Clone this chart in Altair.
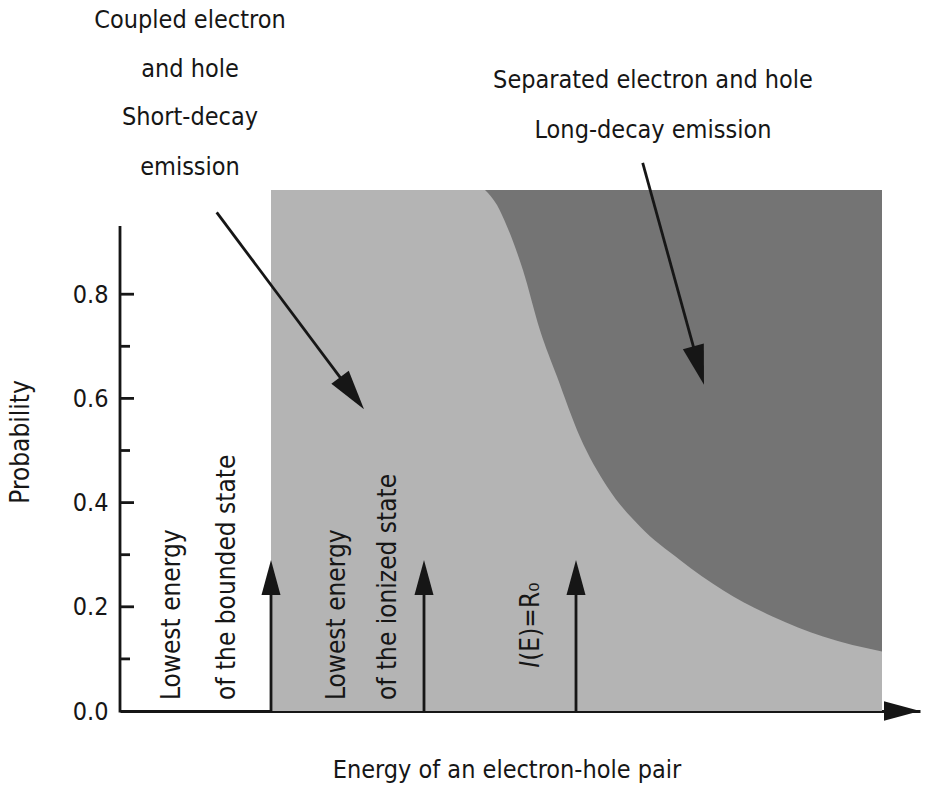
import math

import altair as alt
import pandas as pd

# ---------------------------------------------------------------- values
# Probability axis
label_ticks = [0.0, 0.2, 0.4, 0.6, 0.8]
major_ticks = [0.2, 0.4, 0.6, 0.8]
minor_ticks = [0.1, 0.3, 0.5, 0.7]
prob_axis_top = 0.928

# Energy axis (arbitrary units)
energy_domain = [0, 8]
prob_domain = [0, 1]

# Region where an electron-hole pair can exist
region_start = 1.51
region_end = 7.62
region_top = 1.0

# Boundary between coupled pairs (below/left) and separated pairs (above/right)
boundary_energy = [3.65, 3.77, 3.87, 4.03, 4.20, 4.37, 4.60, 4.87, 5.20,
                   5.60, 6.03, 6.53, 7.03, 7.62]
boundary_prob = [1.000, 0.971, 0.930, 0.846, 0.731, 0.642, 0.526, 0.431,
                 0.354, 0.290, 0.232, 0.181, 0.143, 0.114]

# Characteristic energies marked with arrows
marker_energy = [1.51, 3.04, 4.56]
marker_prob = 0.29

# Rotated labels next to the marked energies
marker_label_text = ["Lowest energy", "of the bounded state",
                     "Lowest energy", "of the ionized state"]
marker_label_x = [0.60, 1.15, 2.25, 2.76]
marker_label_y = [0.021, 0.021, 0.021, 0.021]

# Region captions with their pointers
caption_text = ["Coupled electron", "and hole", "Short-decay", "emission",
                "Separated electron and hole", "Long-decay emission"]
caption_x = [0.70, 0.70, 0.70, 0.70, 5.33, 5.33]
caption_y = [1.310, 1.216, 1.124, 1.028, 1.195, 1.099]

pointer_start_x = [0.967, 5.227]
pointer_start_y = [0.957, 1.052]
pointer_tip_x = [2.44, 5.84]
pointer_tip_y = [0.579, 0.626]

# ---------------------------------------------------------------- layout
W, H = 800, 521
PX_X = W / (energy_domain[1] - energy_domain[0])
PX_Y = H / (prob_domain[1] - prob_domain[0])

FONT = "DejaVu Sans Condensed, Liberation Sans Narrow, Liberation Sans, sans-serif"
TEXT_SIZE = 25
ROT_SIZE = 26
INK = "#161616"
LIGHT = "#b4b4b4"
DARK = "#747474"
LINE_W = 2.8
HEAD = "M0,0 L0.543,2 L-0.543,2 Z"   # arrowhead, tip at the anchor point

xs = alt.Scale(domain=energy_domain, nice=False, zero=False)
ys = alt.Scale(domain=prob_domain, nice=False, zero=False)

x_axis = alt.Axis(
    title="Energy of an electron-hole pair", ticks=False, labels=False,
    grid=False, domainColor=INK, domainWidth=LINE_W,
    titleFont=FONT, titleFontSize=TEXT_SIZE, titleFontWeight="normal",
    titleColor=INK, titleX=386.5, titleY=66, titleAlign="center",
    titleBaseline="alphabetic",
)
y_axis = alt.Axis(
    title="Probability", values=label_ticks, format=".1f", domain=False,
    ticks=False, tickSize=0, grid=False, labelFont=FONT,
    labelFontSize=TEXT_SIZE, labelColor=INK, labelPadding=12,
    labelBaseline="middle", labelFlush=False, labelOverlap=False,
    labelBound=False,
    titleFont=FONT, titleFontSize=ROT_SIZE, titleFontWeight="normal",
    titleColor=INK, titleAngle=270, titleX=-92, titleY=251.5,
    titleAlign="center", titleBaseline="alphabetic",
)


def X(field):
    return alt.X(field, type="quantitative", scale=xs, axis=x_axis)


def Y(field):
    return alt.Y(field, type="quantitative", scale=ys, axis=y_axis)


# ---------------------------------------------------------------- tables
region = pd.DataFrame({"x": [region_start], "x2": [region_end],
                       "y": [0.0], "y2": [region_top]})
boundary = pd.DataFrame({"x": boundary_energy, "y": boundary_prob,
                         "top": [region_top] * len(boundary_energy)})
yline = pd.DataFrame({"x": [0.0], "y": [0.0], "y2": [prob_axis_top]})

heads = []
shafts = []
for e in marker_energy:
    shafts.append({"x": e, "y": 0.0, "x2": e, "y2": marker_prob - 15 / PX_Y})
    heads.append({"x": e, "y": marker_prob, "angle": 0.0, "size": 35 ** 2})
for sx, sy, tx, ty in zip(pointer_start_x, pointer_start_y,
                          pointer_tip_x, pointer_tip_y):
    dxp = (tx - sx) * PX_X
    dyp = (ty - sy) * PX_Y
    length = math.hypot(dxp, dyp)
    ang = math.degrees(math.atan2(dxp, dyp)) % 360
    shafts.append({"x": sx, "y": sy,
                   "x2": tx - dxp / length * 18 / PX_X,
                   "y2": ty - dyp / length * 18 / PX_Y})
    heads.append({"x": tx, "y": ty, "angle": ang, "size": 40 ** 2})
# arrowhead at the end of the energy axis
heads.append({"x": energy_domain[1], "y": 0.0, "angle": 90.0, "size": 36 ** 2})
shafts = pd.DataFrame(shafts)
heads = pd.DataFrame(heads)

marker_labels = pd.DataFrame({"x": marker_label_x, "y": marker_label_y,
                              "t": marker_label_text})
captions = pd.DataFrame({"x": caption_x, "y": caption_y, "t": caption_text})
ratio_label = pd.DataFrame({"x": [4.19], "y": [0.083]})

# ---------------------------------------------------------------- layers
light = alt.Chart(region).mark_rect(color=LIGHT).encode(
    x=X("x"), x2="x2", y=Y("y"), y2="y2")

dark = alt.Chart(boundary).mark_area(
    color=DARK, interpolate="monotone", opacity=1).encode(
    x=X("x"), y=Y("y"), y2="top")

y_line = alt.Chart(yline).mark_rule(
    color=INK, strokeWidth=LINE_W, strokeCap="square").encode(
    x=X("x"), y=Y("y"), y2="y2")

tick_major = alt.Chart(pd.DataFrame({"y": major_ticks})).mark_rule(
    color=INK, strokeWidth=LINE_W).encode(
    x=alt.value(0), x2=alt.value(14), y=Y("y"))
tick_minor = alt.Chart(pd.DataFrame({"y": minor_ticks})).mark_rule(
    color=INK, strokeWidth=LINE_W).encode(
    x=alt.value(0), x2=alt.value(10), y=Y("y"))

shaft_layer = alt.Chart(shafts).mark_rule(
    color=INK, strokeWidth=LINE_W).encode(
    x=X("x"), y=Y("y"), x2="x2", y2="y2")

head_layer = alt.Chart(heads).mark_point(
    shape=HEAD, filled=True, color=INK, opacity=1, strokeWidth=0).encode(
    x=X("x"), y=Y("y"),
    angle=alt.Angle("angle:Q", scale=None),
    size=alt.Size("size:Q", scale=None, legend=None))

marker_text = alt.Chart(marker_labels).mark_text(
    angle=270, align="left", baseline="alphabetic", font=FONT,
    fontSize=ROT_SIZE, color=INK).encode(
    x=X("x"), y=Y("y"), text="t:N")

ratio_i = alt.Chart(ratio_label).mark_text(
    angle=270, align="left", baseline="alphabetic", font=FONT,
    fontSize=ROT_SIZE, fontStyle="italic", color=INK, text="I").encode(
    x=X("x"), y=Y("y"))
ratio_rest = alt.Chart(ratio_label).mark_text(
    angle=270, align="left", baseline="alphabetic", font=FONT,
    fontSize=ROT_SIZE, color=INK, dx=7, text="(E)=R₀").encode(
    x=X("x"), y=Y("y"))

caption_layer = alt.Chart(captions).mark_text(
    align="center", baseline="alphabetic", font=FONT, fontSize=TEXT_SIZE,
    color=INK).encode(
    x=X("x"), y=Y("y"), text="t:N")

chart = alt.layer(
    light, dark, y_line, tick_major, tick_minor, shaft_layer, head_layer,
    marker_text, ratio_i, ratio_rest, caption_layer,
).properties(
    width=W, height=H,
    padding={"left": 120, "top": 190, "right": 5, "bottom": 77},
    autosize=alt.AutoSizeParams(type="none"),
    background="white",
).configure_view(strokeWidth=0)

chart.save("out.html", embed_options={"renderer": "svg", "actions": False})
